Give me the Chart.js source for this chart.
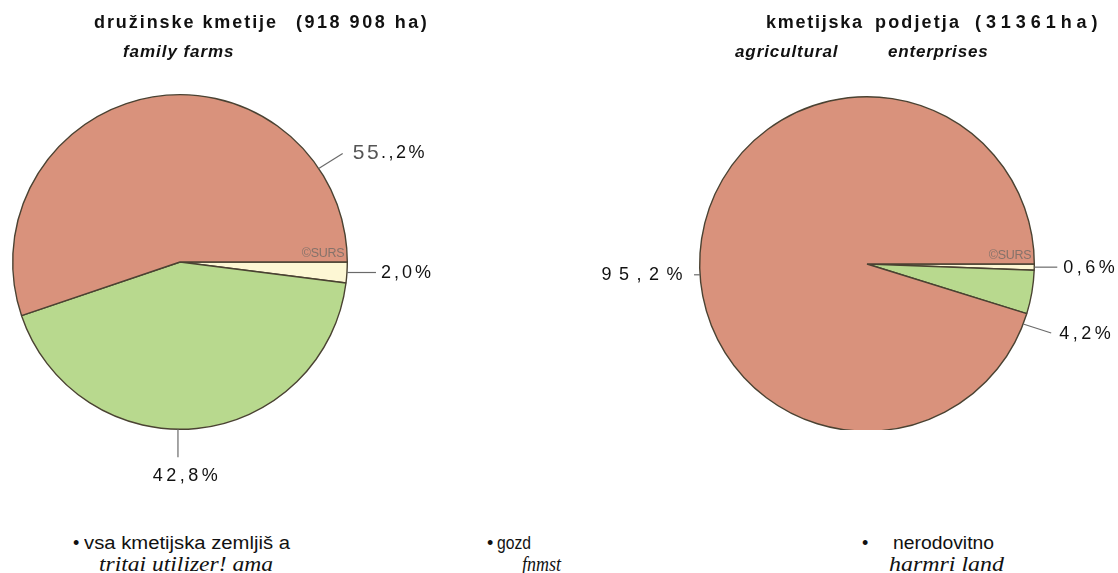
<!DOCTYPE html>
<html>
<head>
<meta charset="utf-8">
<script src="https://cdn.jsdelivr.net/npm/chart.js@4.4.0/dist/chart.umd.min.js"></script>
<style>
html, body { margin: 0; padding: 0; background: #fff; width: 1118px; height: 573px; overflow: hidden; position: relative; }
.t { position: absolute; white-space: pre; color: #111; line-height: 1; transform-origin: 0 50%; }
#left { position: absolute; left: 0; top: 0; }
#rightWrap { position: absolute; left: 559px; top: 0; width: 559px; height: 430px; overflow: hidden; }
</style>
</head>
<body>
<canvas id="left" width="559" height="500"></canvas>
<div id="rightWrap"><canvas id="right" width="559" height="450"></canvas></div>
<script>
// podatki - vrstni red v smeri urinega kazalca od vzhoda
const categories = ["nerodovitno", "gozd", "vsa kmetijska zemljišča"];
const familyFarms = [2.0, 42.8, 55.2];
const enterprises = [0.6, 4.2, 95.2];
const familyLabels = ["2,0%", "42,8%", [["55", "#555", 21], [".,2%", "#111", 18]]];
const enterpriseLabels = ["0,6%", "4,2%", "95,2%"];
const colors = ["#fdf7d4", "#b8d98e", "#d9927c"];

const pieLabels = {
    id: "pieLabels",
    afterDatasetsDraw(chart, args, opts) {
        const ctx = chart.ctx;
        const arcs = chart.getDatasetMeta(0).data;
        let cx = 0, cy = 0, R = 0;
        arcs.forEach((arc, i) => {
            const p = opts.place[i];
            const { x, y, outerRadius, startAngle, endAngle } = arc.getProps(["x", "y", "outerRadius", "startAngle", "endAngle"], true);
            cx = x; cy = y; R = outerRadius;
            const a = p.angle == null ? (startAngle + endAngle) / 2 : p.angle * Math.PI / 180;
            const x0 = x + Math.cos(a) * outerRadius, y0 = y + Math.sin(a) * outerRadius;
            const x1 = x0 + p.line[0], y1 = y0 + p.line[1];
            ctx.save();
            ctx.strokeStyle = "#6a6a6a";
            ctx.lineWidth = 1.2;
            ctx.beginPath(); ctx.moveTo(x0, y0); ctx.lineTo(x1, y1); ctx.stroke();
            ctx.textBaseline = "middle";
            ctx.letterSpacing = p.spacing + "px";
            let lbl = opts.labels[i];
            if (typeof lbl === "string") lbl = [[lbl, "#111", 18]];
            let tx = x1 + p.text[0];
            const ty = y1 + p.text[1];
            if (p.align !== "left") {
                let w = 0;
                lbl.forEach(part => { ctx.font = part[2] + 'px "Liberation Sans", Arial, sans-serif'; w += ctx.measureText(part[0]).width; });
                tx -= p.align === "center" ? w / 2 : w;
            }
            ctx.textAlign = "left";
            lbl.forEach(part => {
                ctx.font = part[2] + 'px "Liberation Sans", Arial, sans-serif';
                ctx.fillStyle = part[1];
                ctx.fillText(part[0], tx, ty);
                tx += ctx.measureText(part[0]).width;
            });
            ctx.restore();
        });
        // vodni znak
        ctx.save();
        ctx.font = '12.5px "Liberation Sans", Arial, sans-serif';
        ctx.letterSpacing = "-0.3px";
        ctx.fillStyle = "#85726a";
        ctx.textAlign = "right";
        ctx.textBaseline = "alphabetic";
        ctx.fillText("©SURS", cx + R - 3, cy - 5);
        ctx.restore();
    }
};

const makePie = (id, values, labels, pad, place) => new Chart(document.getElementById(id), {
    type: "pie",
    data: {
        labels: categories,
        datasets: [{
            data: values,
            backgroundColor: colors,
            borderColor: "#4a4232",
            borderWidth: 1.4,
        }],
    },
    options: {
        responsive: false,
        animation: false,
        rotation: 90,
        layout: { padding: pad },
        plugins: {
            legend: { display: false },
            tooltip: { enabled: false },
            pieLabels: { labels: labels, place: place },
        },
    },
    plugins: [pieLabels],
});

makePie("left", familyFarms, familyLabels,
    { left: 12, top: 94, right: 211, bottom: 70 },
    [
        { angle: null, line: [29, 0], text: [5, 1], align: "left", spacing: 3 },
        { angle: 90.7, line: [0, 28], text: [9, 19], align: "center", spacing: 3.5 },
        { angle: -34, line: [24, -15], text: [10, 0], align: "left", spacing: 2.5 },
    ]);

makePie("right", enterprises, enterpriseLabels,
    { left: 140, top: 96, right: 83, bottom: 18 },
    [
        { angle: null, line: [23, 0], text: [6, 1], align: "left", spacing: 3.5 },
        { angle: 21, line: [28, 9], text: [8, 1], align: "left", spacing: 3.5 },
        { angle: 176.3, line: [-6, 0], text: [-4, 0], align: "right", spacing: 7.5 },
    ]);

// besedila (naslovi in legenda)
function put(txt, x, y, w, font, mode) {
    const d = document.createElement("div");
    d.className = "t";
    d.textContent = txt;
    d.style.font = font;
    d.style.left = x + "px";
    document.body.appendChild(d);
    const r = d.getBoundingClientRect();
    d.style.top = (y - r.height / 2) + "px";
    if (w) {
        if (mode === "scale") d.style.transform = "scaleX(" + (w / r.width) + ")";
        else if (txt.length > 1) d.style.letterSpacing = ((w - r.width) / (txt.length - 0.5)) + "px";
    }
}
const sansB = 'bold 18px "Liberation Sans", Arial, sans-serif';
const sansBI = 'italic bold 17px "Liberation Sans", Arial, sans-serif';
const narrow = '18px "Liberation Sans Narrow", "Arial Narrow", "Liberation Sans", sans-serif';
const serifI = 'italic 20px "Liberation Serif", "Times New Roman", serif';

put("družinske kmetije", 94, 22, 183, sansB);
put("(918 908 ha)", 296, 22, 132, sansB);
put("family farms", 123, 52, 111, sansBI);
put("kmetijska", 766, 22, 97, sansB);
put("podjetja", 875, 22, 85, sansB);
put("(31361ha)", 975, 22, 125, sansB);
put("agricultural", 735, 52, 103, sansBI);
put("enterprises", 888, 52, 100, sansBI);

put("•", 73, 543, 0, narrow);
put("vsa kmetijska zemljiš a", 84, 543, 206, narrow, "scale");
put("tritai utilizer! ama", 99, 564, 174, serifI, "scale");
put("•", 487, 543, 0, narrow);
put("gozd", 497, 543, 34, narrow, "scale");
put("fnmst", 522, 564, 39, serifI, "scale");
put("•", 862, 543, 0, narrow);
put("nerodovitno", 893, 543, 101, narrow, "scale");
put("harmri land", 889, 564, 115, serifI, "scale");
</script>
</body>
</html>
